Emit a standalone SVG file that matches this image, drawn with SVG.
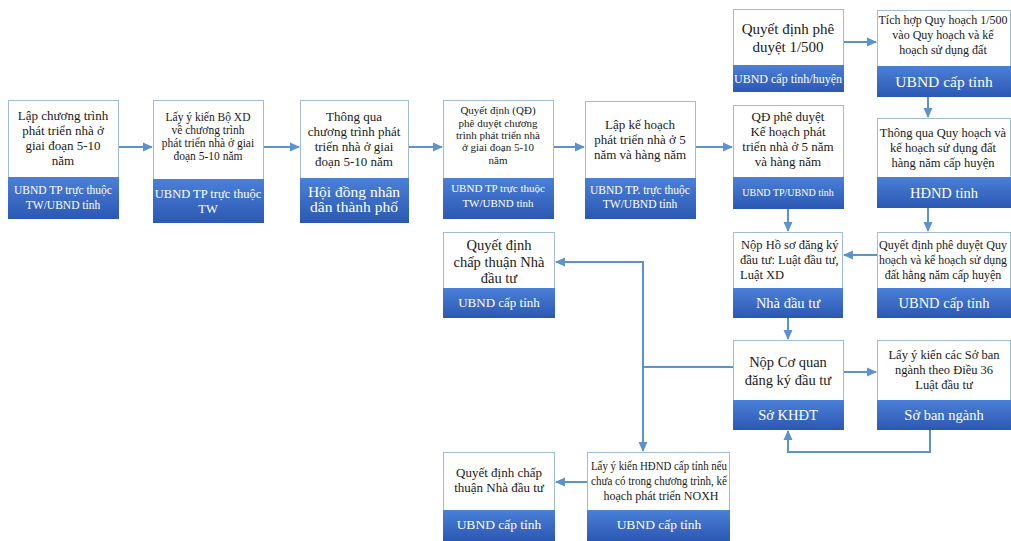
<svg xmlns="http://www.w3.org/2000/svg" width="1011" height="541" viewBox="0 0 1011 541" font-family="'Liberation Serif', 'Times New Roman', 'DejaVu Serif', serif">
<defs>
<linearGradient id="bl" x1="0" y1="0" x2="0" y2="1">
<stop offset="0" stop-color="#4b80d8"/>
<stop offset="1" stop-color="#2b58b2"/>
</linearGradient>
<marker id="ah" markerUnits="userSpaceOnUse" markerWidth="10" markerHeight="10" refX="9" refY="5" orient="auto">
<path d="M0,0.5 L10,5 L0,9.5 Z" fill="#5b93cf"/>
</marker>
</defs>
<style>
.box{fill:#ffffff;stroke:#a3bcd6;stroke-width:1}
.band{fill:url(#bl)}
text{font-family:'Liberation Serif','Times New Roman','DejaVu Serif',serif;text-anchor:middle}
.t{fill:#1a1a1a}
.w{fill:#ffffff}
.c path{fill:none;stroke:#5b93cf;stroke-width:2}
</style>
<rect width="1011" height="541" fill="#ffffff"/>

<g id="n1">
<rect class="box" x="8.5" y="100.5" width="110" height="118"/>
<rect class="band" x="8" y="177" width="111" height="42"/>
<text class="t" font-size="13" x="63"><tspan y="120">Lập chương trình</tspan><tspan x="63" y="135">phát triển nhà ở</tspan><tspan x="63" y="150">giai đoạn 5-10</tspan><tspan x="63" y="165">năm</tspan></text>
<text class="w" font-size="11.5" x="63"><tspan y="194">UBND TP trực thuộc</tspan><tspan x="63" y="209">TW/UBND tỉnh</tspan></text>
</g>

<g id="n2">
<rect class="box" x="153.5" y="100.5" width="110" height="122"/>
<rect class="band" x="153" y="179" width="111" height="44"/>
<text class="t" font-size="11.5" x="208"><tspan y="121">Lấy ý kiến Bộ XD</tspan><tspan x="208" y="134">về chương trình</tspan><tspan x="208" y="147">phát triển nhà ở giai</tspan><tspan x="208" y="160">đoạn 5-10 năm</tspan></text>
<text class="w" font-size="12.5" x="208"><tspan y="198">UBND  TP  trực  thuộc</tspan><tspan x="208" y="213">TW</tspan></text>
</g>

<g id="n3">
<rect class="box" x="300.5" y="100.5" width="108" height="122"/>
<rect class="band" x="300" y="178" width="109" height="45"/>
<text class="t" font-size="13" x="354"><tspan y="121">Thông qua</tspan><tspan x="354" y="136">chương trình phát</tspan><tspan x="354" y="151">triển nhà ở giai</tspan><tspan x="354" y="166">đoạn 5-10 năm</tspan></text>
<text class="w" font-size="15.5" x="354"><tspan y="197">Hội đồng nhân</tspan><tspan x="354" y="212">dân thành phố</tspan></text>
</g>

<g id="n4">
<rect class="box" x="443.5" y="100.5" width="110" height="118"/>
<rect class="band" x="443" y="178" width="111" height="41"/>
<text class="t" font-size="11" x="498"><tspan y="114">Quyết định (QĐ)</tspan><tspan x="498" y="127">phê duyệt chương</tspan><tspan x="498" y="139">trình phát triển nhà</tspan><tspan x="498" y="151">ở giai đoạn 5-10</tspan><tspan x="498" y="164">năm</tspan></text>
<text class="w" font-size="11" x="498"><tspan y="192">UBND TP trực thuộc</tspan><tspan x="498" y="207">TW/UBND  tỉnh</tspan></text>
</g>

<g id="n5">
<rect class="box" x="585.5" y="101.5" width="110" height="117"/>
<rect class="band" x="585" y="178" width="111" height="41"/>
<text class="t" font-size="13" x="640"><tspan y="129">Lập kế hoạch</tspan><tspan x="640" y="144">phát triển nhà ở 5</tspan><tspan x="640" y="159">năm và hàng năm</tspan></text>
<text class="w" font-size="11.5" x="640"><tspan y="194">UBND TP. trực thuộc</tspan><tspan x="640" y="208">TW/UBND tỉnh</tspan></text>
</g>

<g id="n6">
<rect class="box" x="733.5" y="105.5" width="110" height="103"/>
<rect class="band" x="733" y="177" width="111" height="32"/>
<text class="t" font-size="13" x="788"><tspan y="121">QĐ  phê duyệt</tspan><tspan x="788" y="136">Kế hoạch phát</tspan><tspan x="788" y="151">triển nhà ở 5 năm</tspan><tspan x="788" y="166">và hàng năm</tspan></text>
<text class="w" font-size="10" x="788" y="196">UBND  TP/UBND  tỉnh</text>
</g>

<g id="n7">
<rect class="box" x="733.5" y="9.5" width="110" height="82"/>
<rect class="band" x="733" y="65" width="111" height="27"/>
<text class="t" font-size="15" x="788"><tspan y="34">Quyết định phê</tspan><tspan x="788" y="52">duyệt 1/500</tspan></text>
<text class="w" font-size="12" x="788" y="83">UBND cấp tỉnh/huyện</text>
</g>

<g id="n8">
<rect class="box" x="877.5" y="10.5" width="133" height="86"/>
<rect class="band" x="877" y="66" width="134" height="31"/>
<text class="t" font-size="12" x="943"><tspan y="24">Tích hợp Quy hoạch 1/500</tspan><tspan x="943" y="39">vào Quy hoạch và kế</tspan><tspan x="943" y="54">hoạch sử dụng đất</tspan></text>
<text class="w" font-size="15.5" x="944" y="87">UBND cấp tỉnh</text>
</g>

<g id="n9">
<rect class="box" x="877.5" y="118.5" width="133" height="89"/>
<rect class="band" x="877" y="177" width="134" height="31"/>
<text class="t" font-size="12.5" x="943"><tspan y="137">Thông qua Quy hoạch và</tspan><tspan x="943" y="152">kế hoạch sử dụng đất</tspan><tspan x="943" y="167">hàng năm cấp huyện</tspan></text>
<text class="w" font-size="14.5" x="944" y="198">HĐND tỉnh</text>
</g>

<g id="n10">
<rect class="box" x="877.5" y="232.5" width="133" height="85"/>
<rect class="band" x="877" y="288" width="134" height="30"/>
<text class="t" font-size="12" x="943"><tspan y="249" textLength="128" lengthAdjust="spacingAndGlyphs">Quyết định phê duyệt Quy</tspan><tspan x="943" y="264" textLength="128" lengthAdjust="spacingAndGlyphs">hoạch và kế hoạch sử dụng</tspan><tspan x="943" y="279">đất hằng năm cấp huyện</tspan></text>
<text class="w" font-size="14.5" x="944" y="308">UBND cấp tỉnh</text>
</g>

<g id="n11">
<rect class="box" x="733.5" y="232.5" width="109" height="85"/>
<rect class="band" x="733" y="288" width="110" height="30"/>
<text class="t" font-size="12.5" x="741" style="text-anchor:start"><tspan y="249">Nộp  Hồ sơ đăng ký</tspan><tspan x="740" y="264">đầu tư: Luật đầu tư,</tspan><tspan x="740" y="279">Luật XD</tspan></text>
<text class="w" font-size="14.5" x="788" y="308">Nhà đầu tư</text>
</g>

<g id="n12">
<rect class="box" x="733.5" y="340.5" width="110" height="89"/>
<rect class="band" x="733" y="400" width="111" height="30"/>
<text class="t" font-size="14.5" x="788"><tspan y="367">Nộp Cơ quan</tspan><tspan x="788" y="385">đăng ký đầu tư</tspan></text>
<text class="w" font-size="14.5" x="788" y="420">Sở KHĐT</text>
</g>

<g id="n13">
<rect class="box" x="877.5" y="340.5" width="133" height="89"/>
<rect class="band" x="877" y="400" width="134" height="30"/>
<text class="t" font-size="12.5" x="944"><tspan y="359">Lấy ý kiến các Sở ban</tspan><tspan x="944" y="374">ngành theo Điều  36</tspan><tspan x="944" y="389">Luật đầu tư</tspan></text>
<text class="w" font-size="14.5" x="944" y="420">Sở ban ngành</text>
</g>

<g id="n14">
<rect class="box" x="443.5" y="232.5" width="111" height="85"/>
<rect class="band" x="443" y="288" width="112" height="30"/>
<text class="t" font-size="14.5" x="499"><tspan y="250">Quyết định</tspan><tspan x="499" y="267">chấp thuận Nhà</tspan><tspan x="499" y="283">đầu tư</tspan></text>
<text class="w" font-size="13" x="499" y="307">UBND cấp tỉnh</text>
</g>

<g id="n15">
<rect class="box" x="587.5" y="452.5" width="142" height="87"/>
<rect class="band" x="587" y="510" width="143" height="31"/>
<text class="t" font-size="12" x="659"><tspan y="470" textLength="136" lengthAdjust="spacingAndGlyphs">Lấy ý kiến HĐND cấp tỉnh nếu</tspan><tspan x="659" y="485" textLength="136" lengthAdjust="spacingAndGlyphs">chưa có trong chương trình, kế</tspan><tspan x="661" y="500">hoạch phát triển NOXH</tspan></text>
<text class="w" font-size="13.5" x="659" y="529">UBND cấp tỉnh</text>
</g>

<g id="n16">
<rect class="box" x="443.5" y="452.5" width="111" height="87"/>
<rect class="band" x="443" y="510" width="112" height="31"/>
<text class="t" font-size="13" x="499"><tspan y="477">Quyết định chấp</tspan><tspan x="499" y="492">thuận Nhà đầu tư</tspan></text>
<text class="w" font-size="13.5" x="499" y="529">UBND cấp tỉnh</text>
</g>

<g id="connectors" class="c">
<path d="M119 147 H152" marker-end="url(#ah)"/>
<path d="M264 147 H299" marker-end="url(#ah)"/>
<path d="M409 147 H442" marker-end="url(#ah)"/>
<path d="M554 147 H584" marker-end="url(#ah)"/>
<path d="M696 147 H732" marker-end="url(#ah)"/>
<path d="M844 42 H876" marker-end="url(#ah)"/>
<path d="M928 97 V117" marker-end="url(#ah)"/>
<path d="M928 208 V231" marker-end="url(#ah)"/>
<path d="M877 255 H844" marker-end="url(#ah)"/>
<path d="M788 209 V231" marker-end="url(#ah)"/>
<path d="M788 318 V339" marker-end="url(#ah)"/>
<path d="M844 372 H876" marker-end="url(#ah)"/>
<path d="M930 430 V452 H788 V431" marker-end="url(#ah)"/>
<path d="M733 367 H643"/>
<path d="M643 262 V451" marker-end="url(#ah)"/>
<path d="M644 262 H556" marker-end="url(#ah)"/>
<path d="M587 482 H556" marker-end="url(#ah)"/>
</g>
</svg>
